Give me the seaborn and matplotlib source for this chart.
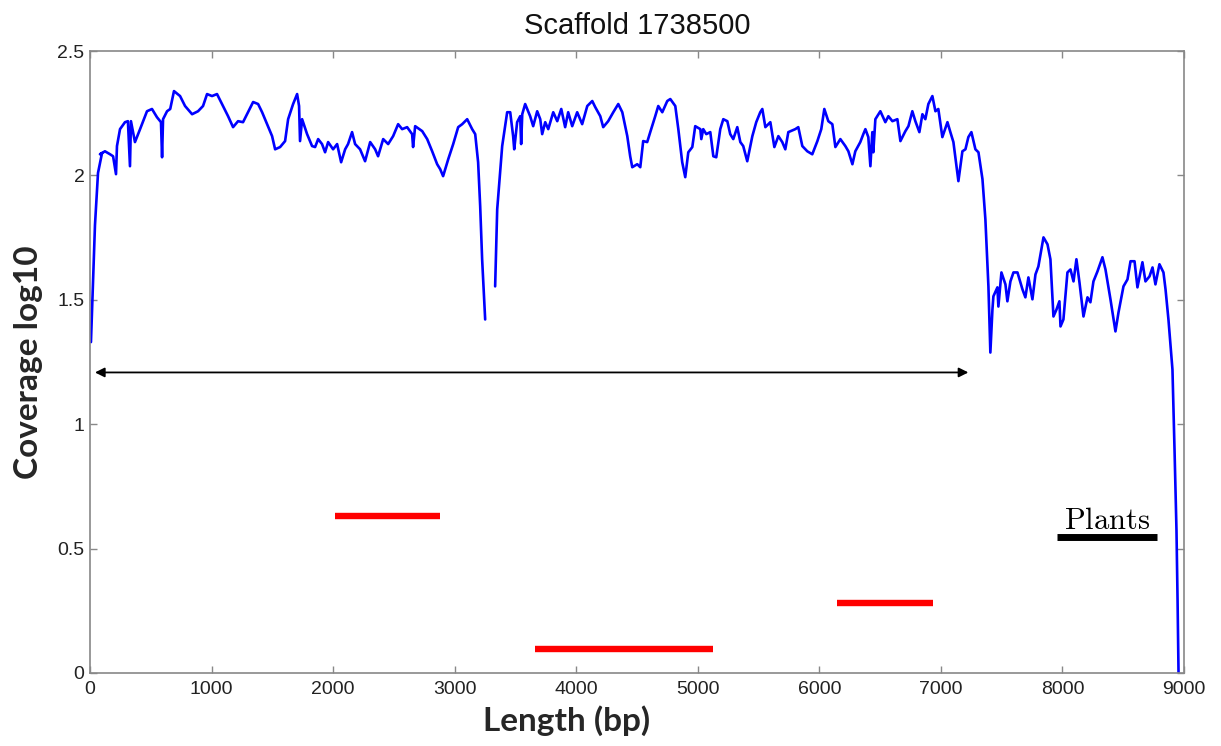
import numpy as np
import pandas as pd
import matplotlib
matplotlib.use("Agg")
import matplotlib.pyplot as plt
import seaborn as sns

# ---------------- data ----------------
title = "Scaffold 1738500"
x_label = "Length (bp)"
y_label = "Coverage log10"

# coverage trace, part 1 (start up to the first deep dip)
cov1_x = [8, 41, 66, 99, 82, 123, 165, 190, 214, 222, 247, 288, 312, 329, 337, 370, 412, 469, 510,
          551, 584, 593, 601, 634, 660, 691, 741, 782, 840, 889, 930, 963, 1004, 1045, 1086, 1136,
          1177, 1218, 1259, 1300, 1342, 1383, 1416, 1457, 1498, 1523, 1564, 1605, 1630, 1671, 1704,
          1720, 1728, 1745, 1786, 1827, 1852, 1877, 1909, 1934, 1959, 2000, 2033, 2066, 2099, 2123,
          2156, 2181, 2222, 2263, 2305, 2346, 2370, 2412, 2453, 2494, 2535, 2568, 2609, 2650, 2658,
          2675, 2733, 2774, 2815, 2856, 2881, 2905, 2947, 2988, 3029, 3062, 3103, 3144, 3169, 3193,
          3210, 3226, 3251]
cov1_y = [1.33, 1.80, 2.01, 2.09, 2.085, 2.097, 2.085, 2.077, 2.005, 2.118, 2.186, 2.214, 2.218,
          2.037, 2.218, 2.134, 2.186, 2.258, 2.267, 2.234, 2.214, 2.073, 2.226, 2.258, 2.267, 2.339,
          2.319, 2.279, 2.246, 2.258, 2.279, 2.327, 2.319, 2.327, 2.287, 2.238, 2.194, 2.218, 2.214,
          2.254, 2.295, 2.287, 2.254, 2.206, 2.158, 2.105, 2.114, 2.138, 2.226, 2.287, 2.327, 2.279,
          2.138, 2.226, 2.166, 2.118, 2.114, 2.146, 2.126, 2.093, 2.134, 2.105, 2.126, 2.053, 2.105,
          2.126, 2.174, 2.126, 2.105, 2.057, 2.134, 2.105, 2.077, 2.146, 2.126, 2.158, 2.206, 2.186,
          2.194, 2.166, 2.114, 2.198, 2.178, 2.146, 2.097, 2.045, 2.025, 1.997, 2.065, 2.126, 2.194,
          2.206, 2.226, 2.186, 2.166, 2.053, 1.876, 1.663, 1.421]

# coverage trace, part 2 (after the gap to the end of the scaffold)
cov2_x = [3333, 3350, 3391, 3432, 3457, 3481, 3490, 3514, 3539, 3547, 3556, 3580, 3621, 3646, 3679,
          3704, 3720, 3745, 3770, 3811, 3844, 3877, 3909, 3934, 3967, 4008, 4049, 4091, 4132, 4156,
          4198, 4222, 4263, 4305, 4346, 4379, 4420, 4444, 4461, 4502, 4527, 4551, 4584, 4609, 4650,
          4675, 4708, 4749, 4774, 4815, 4840, 4872, 4897, 4922, 4955, 4979, 5021, 5029, 5045, 5070,
          5103, 5128, 5152, 5185, 5210, 5243, 5267, 5292, 5325, 5350, 5374, 5407, 5449, 5481, 5514,
          5531, 5556, 5597, 5630, 5663, 5695, 5720, 5745, 5802, 5827, 5860, 5901, 5942, 5984, 6016,
          6041, 6074, 6107, 6132, 6173, 6214, 6239, 6272, 6296, 6337, 6362, 6379, 6403, 6420, 6436,
          6444, 6461, 6502, 6543, 6568, 6601, 6642, 6667, 6708, 6733, 6765, 6790, 6823, 6848, 6872,
          6897, 6930, 6955, 6979, 7012, 7054, 7078, 7103, 7144, 7177, 7202, 7226, 7251, 7284, 7309,
          7342, 7366, 7391, 7407, 7424, 7432, 7465, 7473, 7498, 7531, 7547, 7572, 7597, 7630, 7671,
          7695, 7720, 7753, 7778, 7802, 7844, 7877, 7901, 7926, 7951, 7975, 7984, 8008, 8041, 8066,
          8091, 8115, 8140, 8173, 8206, 8230, 8255, 8288, 8329, 8354, 8395, 8436, 8461, 8502, 8535,
          8560, 8593, 8617, 8658, 8683, 8716, 8741, 8765, 8798, 8831, 8848, 8872, 8905, 8922, 8938,
          8947, 8955]
cov2_y = [1.554, 1.864, 2.118, 2.254, 2.254, 2.158, 2.105, 2.214, 2.238, 2.126, 2.246, 2.287, 2.238,
          2.198, 2.258, 2.226, 2.166, 2.214, 2.186, 2.254, 2.218, 2.267, 2.194, 2.254, 2.198, 2.254,
          2.206, 2.279, 2.299, 2.275, 2.238, 2.194, 2.218, 2.254, 2.287, 2.254, 2.158, 2.077, 2.033,
          2.045, 2.033, 2.138, 2.134, 2.174, 2.238, 2.279, 2.254, 2.299, 2.307, 2.279, 2.186, 2.053,
          1.993, 2.093, 2.114, 2.198, 2.186, 2.146, 2.186, 2.166, 2.174, 2.077, 2.073, 2.186, 2.226,
          2.218, 2.166, 2.146, 2.194, 2.134, 2.118, 2.057, 2.158, 2.214, 2.254, 2.267, 2.194, 2.214,
          2.114, 2.158, 2.134, 2.105, 2.174, 2.186, 2.194, 2.118, 2.097, 2.085, 2.138, 2.186, 2.267,
          2.218, 2.206, 2.114, 2.146, 2.118, 2.097, 2.045, 2.097, 2.134, 2.166, 2.186, 2.154, 2.037,
          2.174, 2.093, 2.226, 2.258, 2.214, 2.238, 2.218, 2.226, 2.138, 2.178, 2.198, 2.258, 2.218,
          2.174, 2.246, 2.226, 2.287, 2.319, 2.258, 2.267, 2.154, 2.214, 2.174, 2.134, 1.977, 2.097,
          2.105, 2.154, 2.174, 2.105, 2.093, 1.985, 1.824, 1.554, 1.288, 1.461, 1.514, 1.550, 1.473,
          1.610, 1.562, 1.494, 1.574, 1.610, 1.610, 1.542, 1.510, 1.590, 1.502, 1.602, 1.634, 1.751,
          1.723, 1.663, 1.433, 1.461, 1.494, 1.393, 1.421, 1.610, 1.622, 1.574, 1.663, 1.570, 1.433,
          1.510, 1.490, 1.574, 1.614, 1.671, 1.622, 1.502, 1.373, 1.449, 1.554, 1.582, 1.655, 1.655,
          1.550, 1.651, 1.574, 1.594, 1.630, 1.562, 1.643, 1.610, 1.542, 1.421, 1.220, 0.898, 0.576,
          0.294, 0.0]

# annotated regions (red bars) and plant-hit bar
red_start = [2016, 3663, 6148]
red_end = [2881, 5128, 6938]
red_level = [0.632, 0.097, 0.282]

plant_start = [7959]
plant_end = [8774]
plant_level = [0.548]
plant_label = "Plants"

# double arrow extent
arrow_start = 41
arrow_end = 7226
arrow_level = 1.208

x_ticks = [0, 1000, 2000, 3000, 4000, 5000, 6000, 7000, 8000, 9000]
y_ticks = [0, 0.5, 1, 1.5, 2, 2.5]
y_tick_labels = ["0", "0.5", "1", "1.5", "2", "2.5"]

# ---------------- plot ----------------
sns.set_theme(style="white")
plt.rcParams["font.family"] = ["Liberation Sans", "DejaVu Sans"]
plt.rcParams["mathtext.fontset"] = "cm"

df = pd.concat([
    pd.DataFrame({"x": cov1_x, "y": cov1_y, "seg": 1}),
    pd.DataFrame({"x": cov2_x, "y": cov2_y, "seg": 2}),
], ignore_index=True)

fig = plt.figure(figsize=(12.21, 7.46), dpi=100)
ax = fig.add_axes([0.0737, 0.0979, 0.8960, 0.8337])

sns.lineplot(data=df, x="x", y="y", units="seg", estimator=None, sort=False,
             color="#0000FF", linewidth=1.9, ax=ax, legend=False)

ax.hlines(red_level, red_start, red_end, colors="#FF0000", linewidth=4.6)
ax.hlines(plant_level, plant_start, plant_end, colors="black", linewidth=5.0)
ax.text((plant_start[0] + plant_end[0]) / 2, plant_level[0] + 0.03,
        r"$\mathrm{" + plant_label + "}$", ha="center", va="baseline", fontsize=22,
        color="black")

ax.annotate("", xy=(arrow_end, arrow_level), xytext=(arrow_start, arrow_level),
            arrowprops=dict(arrowstyle="<|-|>", color="black", lw=1.3,
                            mutation_scale=14, shrinkA=0, shrinkB=0))

ax.set_xlim(0, 9000)
ax.set_ylim(0, 2.5)
ax.set_xticks(x_ticks)
ax.set_xticklabels([str(t) for t in x_ticks])
ax.set_yticks(y_ticks)
ax.set_yticklabels(y_tick_labels)
ax.tick_params(axis="both", direction="in", length=5, width=1, color="#888888",
               labelsize=14, labelcolor="#222222", top=True, right=True,
               bottom=True, left=True)
ax.tick_params(axis="x", pad=6)
ax.tick_params(axis="y", pad=4)
for s in ax.spines.values():
    s.set_color("#888888")
    s.set_linewidth(1.2)

ax.set_title(title, fontsize=21, color="#111111", pad=12)
ax.set_xlabel(x_label, fontsize=24, fontweight="bold", family=["Lato", "DejaVu Sans"])
ax.set_ylabel(y_label, fontsize=24, fontweight="bold", family=["Lato", "DejaVu Sans"])
ax.xaxis.set_label_coords(0.436, -0.052)
ax.yaxis.set_label_coords(-0.043, 0.5)

fig.savefig("out.png", dpi=100, facecolor="white")
